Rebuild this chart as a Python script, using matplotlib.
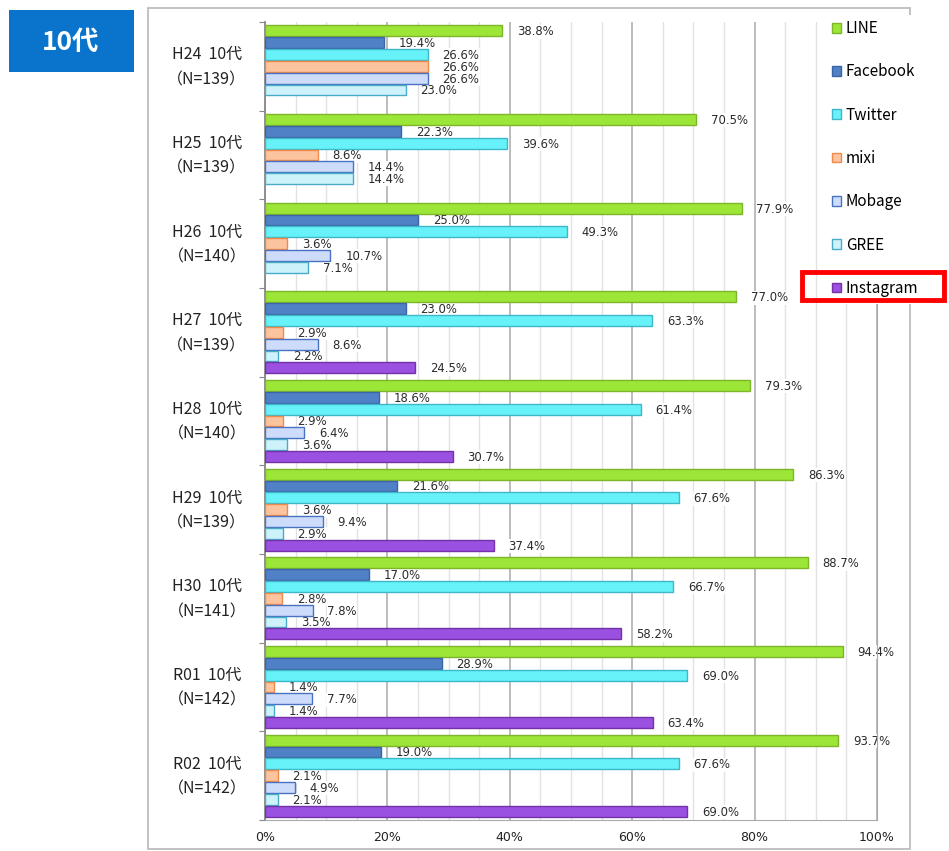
import numpy as np
import matplotlib.pyplot as plt
from matplotlib.patches import Rectangle

plt.rcParams['font.family'] = ['Noto Sans CJK JP', 'DejaVu Sans']

groups = ["H24", "H25", "H26", "H27", "H28", "H29", "H30", "R01", "R02"]
counts = [139, 139, 140, 139, 140, 139, 141, 142, 142]
services = ["LINE", "Facebook", "Twitter", "mixi", "Mobage", "GREE", "Instagram"]

line_v = [38.8, 70.5, 77.9, 77.0, 79.3, 86.3, 88.7, 94.4, 93.7]
facebook_v = [19.4, 22.3, 25.0, 23.0, 18.6, 21.6, 17.0, 28.9, 19.0]
twitter_v = [26.6, 39.6, 49.3, 63.3, 61.4, 67.6, 66.7, 69.0, 67.6]
mixi_v = [26.6, 8.6, 3.6, 2.9, 2.9, 3.6, 2.8, 1.4, 2.1]
mobage_v = [26.6, 14.4, 10.7, 8.6, 6.4, 9.4, 7.8, 7.7, 4.9]
gree_v = [23.0, 14.4, 7.1, 2.2, 3.6, 2.9, 3.5, 1.4, 2.1]
instagram_v = [None, None, None, 24.5, 30.7, 37.4, 58.2, 63.4, 69.0]

series = [line_v, facebook_v, twitter_v, mixi_v, mobage_v, gree_v, instagram_v]
faces = ["#9be636", "#5080c6", "#66f2f8", "#fcc49e", "#cddcfa", "#cdf2fa", "#9a50e0"]
edges = ["#7fb52a", "#3b65a6", "#3fb6c9", "#f08a4b", "#4a72c2", "#49acc6", "#7432a8"]

fig = plt.figure(figsize=(9.49, 8.51), dpi=100)
W, H = 949, 851


def fig_rect(x0, y0, x1, y1, **kw):
    # rectangle given in pixel coords (origin top-left)
    r = Rectangle((x0 / W, 1 - y1 / H), (x1 - x0) / W, (y1 - y0) / H,
                  transform=fig.transFigure, **kw)
    fig.add_artist(r)
    return r


# outer frame of the chart
fig_rect(148, 8, 910, 849, fill=False, edgecolor="#bdbdbd", linewidth=1.3, zorder=1)

# title badge
fig_rect(9, 10, 134, 72, facecolor="#0a74cc", edgecolor="none", zorder=1)
fig.text(71 / W, 1 - 42 / H, "10代", color="white", fontsize=19, fontweight="bold",
         ha="center", va="center")

ax = fig.add_axes([265 / W, 1 - 820 / H, (877 - 265) / W, (820 - 22) / H])

n = len(groups)
h = 1 / 7.5
for j, (name, vals) in enumerate(zip(services, series)):
    ys = [i - 0.5 + (0.25 + j + 0.5) * h for i in range(n)]
    for i, v in enumerate(vals):
        if v is None:
            continue
        ax.barh(ys[i], v, height=h * 0.92, color=faces[j], edgecolor=edges[j],
                linewidth=1.0, zorder=3, label=name if i == 3 else None)
        # label sits under the bars, its white box only hides the grid
        ax.text(v + 2.4, ys[i] + 0.01, "{:.1f}%".format(v), fontsize=8.4,
                color="#2a2a2a", va="center", ha="left", zorder=2.5,
                family="DejaVu Sans",
                bbox=dict(facecolor="white", edgecolor="none", pad=0.3))

ax.set_xlim(0, 100)
ax.set_ylim(n - 0.5, -0.5)
ax.set_xticks(np.arange(0, 101, 20))
ax.set_xticklabels(["{}%".format(x) for x in range(0, 101, 20)], fontsize=9,
                   family="DejaVu Sans", color="#222222")
ax.set_xticks(np.arange(0, 101, 5), minor=True)
ax.grid(axis="x", which="major", color="#b0b0b0", linewidth=1.2, zorder=0)
ax.grid(axis="x", which="minor", color="#e2e2e2", linewidth=1.0, zorder=0)
ax.tick_params(axis="x", which="both", length=0, pad=8)
ax.set_yticks(np.arange(-0.5, n, 1.0))
ax.set_yticklabels([])
ax.tick_params(axis="y", length=4, color="#888888")
ax.spines["top"].set_visible(False)
ax.spines["left"].set_color("#888888")
ax.spines["left"].set_linewidth(1.3)
ax.spines["bottom"].set_color("#aaaaaa")
ax.spines["right"].set_color("#aaaaaa")

for i, (g, c) in enumerate(zip(groups, counts)):
    ax.text(-9.5, i - 0.13, "{}  10代".format(g), fontsize=11.5, ha="center",
            va="center", color="#222222")
    ax.text(-9.5, i + 0.15, "（N={}）".format(c), fontsize=11.5, ha="center",
            va="center", color="#222222")

# legend on a white panel at the top right
fig_rect(818, 15, 946, 304, facecolor="white", edgecolor="none", zorder=5)
handles, labels = ax.get_legend_handles_labels()
leg = fig.legend(handles, labels, loc="upper left",
                 bbox_to_anchor=(826 / W, 1 - 14 / H), frameon=False,
                 fontsize=11, handlelength=0.6, handleheight=0.6,
                 handletextpad=0.3, labelspacing=1.72, borderaxespad=0)
leg.set_zorder(6)

fig_rect(802, 272, 944, 300, fill=False, edgecolor="#ff0000", linewidth=3.5, zorder=7)

plt.savefig("out.png", dpi=100)
